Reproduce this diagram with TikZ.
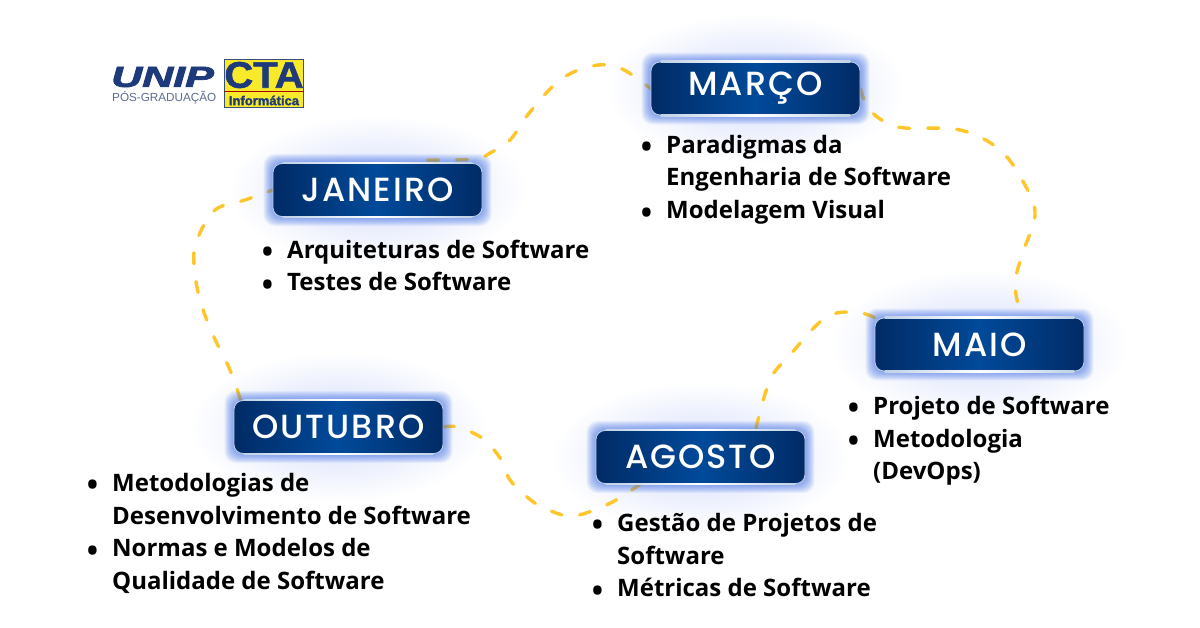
\documentclass[tikz,border=0pt]{standalone}
\usepackage{fontspec}
\setmainfont{Open Sans}
\newfontfamily\titlefont[LetterSpace=6]{Poppins Medium}
\newfontfamily\logofont{Liberation Sans}
\newfontfamily\unipfont[UprightFont=* Bold Italic,FakeBold=2.5]{Liberation Sans}
\newfontfamily\ctafont[UprightFont=* Bold,FakeBold=1.5]{Liberation Sans}
\usetikzlibrary{calc}
\definecolor{boxdark}{HTML}{012B66}
\definecolor{boxmid}{HTML}{014A9A}
\definecolor{glowc}{HTML}{3F6FE6}
\definecolor{hazec}{HTML}{D3DCFB}
\definecolor{wirec}{HTML}{FFC62B}
\definecolor{unipblue}{HTML}{1E3A7B}
\definecolor{unipgrey}{HTML}{5C6C90}
\definecolor{ctayellow}{HTML}{F8EA2B}
\pgfdeclarelayer{haze}\pgfdeclarelayer{wire}\pgfdeclarelayer{glow}
\pgfsetlayers{haze,wire,glow,main}
\tikzset{
  monthbox/.style={rounded corners=9pt,draw=white!75!boxmid,line width=.8pt,
    left color=boxdark,right color=boxdark,middle color=boxmid,
    minimum width=209pt,minimum height=53pt,inner sep=0pt,text=white,
    font=\titlefont\fontsize{33.5}{36}\selectfont},
  wireline/.style={draw=wirec,line width=3.4pt,line cap=round,dash pattern=on 11pt off 18pt},
  bodylist/.style={anchor=north west,inner sep=0pt,align=left,text=black,
    font=\fontsize{24}{32.8}\selectfont\bfseries},
  edgeglow/.style={left color=white!75!boxmid,right color=white!75!boxmid,middle color=white},
}
\newcommand\itm{\llap{\raisebox{-4.5pt}{\fontsize{30}{30}\selectfont •}\hspace{14pt}}}
\newcommand\fl{\rule{0pt}{20pt}}
\newcommand\monthnode[4]{%
  \node[monthbox] (#1) at (#2,#3) {#4};
  \begin{pgfonlayer}{haze}
    \shade[inner color=hazec,outer color=white] ($(#1)+(-150,-75)$) rectangle ($(#1)+(150,75)$);
  \end{pgfonlayer}
  \begin{pgfonlayer}{glow}
    \foreach \g in {9,8,7,6,5,4,3,2,1}
      \fill[glowc,opacity=.085,rounded corners=11pt]
        ($(#1.north west)+(-\g,-\g)$) rectangle ($(#1.south east)+(\g,\g)$);
  \end{pgfonlayer}
  \shade[edgeglow] ($(#1.north west)+(10,-.8)$) rectangle ($(#1.north east)+(-10,.8)$);
  \shade[edgeglow] ($(#1.south west)+(10,-.8)$) rectangle ($(#1.south east)+(-10,.8)$);
}
\begin{document}
\begin{tikzpicture}[x=1pt,y=-1pt]
\useasboundingbox (0,0) rectangle (1200,628);
\begin{pgfonlayer}{haze}
  \fill[white] (0,0) rectangle (1200,628);
\end{pgfonlayer}

\monthnode{jan}{377.5}{190}{JANEIRO}
\monthnode{mar}{755.5}{88.5}{MARÇO}
\monthnode{mai}{979.5}{344.5}{MAIO}
\monthnode{out}{338.5}{427}{OUTUBRO}
\monthnode{ago}{700.5}{457}{AGOSTO}
\coordinate (maitop) at ($(mai.north)+(42,0)$);
\coordinate (agotop) at ($(ago.north)+(55,0)$);
\coordinate (agobot) at ($(ago.south)+(-60,0)$);
\coordinate (jantop) at ($(jan.north)+(50,-3)$);
\coordinate (outtop) at ($(out.north)+(-98,0)$);

\begin{pgfonlayer}{wire}
  \draw[wireline] plot[smooth,tension=.6] coordinates
    {(outtop) (230,370) (213,335) (200,300) (194,265) (197,240) (215,210) (245,200) (jan.west)};
  \draw[wireline] plot[smooth,tension=.6] coordinates
    {(jantop) (475,159) (490,153) (510,140) (530,112) (560,80) (592,66) (620,68) (mar.west)};
  \draw[wireline] plot[smooth,tension=.6] coordinates
    {(mar.east) (868,108) (885,122) (905,128) (960,130) (1000,150) (1025,185) (1035,215) (1022,255) (1015,285) (maitop)};
  \draw[wireline] plot[smooth,tension=.6] coordinates
    {(mai.north west) (855,312) (825,318) (790,355) (770,380) (agotop)};
  \draw[wireline] plot[smooth,tension=.6] coordinates
    {(out.east) (457,427) (482,438) (500,458) (510,480) (527,497) (542,507) (568,516) (592,511) (616,500) (agobot)};
\end{pgfonlayer}

\node[bodylist] (tjan) at (287,238) {\fl\itm Arquiteturas de Software\\\itm Testes de Software};
\node[bodylist] (tmar) at (666,133) {\fl\itm Paradigmas da\\Engenharia de Software\\\itm Modelagem Visual};
\node[bodylist] (tmai) at (873,394) {\fl\itm Projeto de Software\\\itm Metodologia\\(DevOps)};
\node[bodylist] (tout) at (112,471) {\fl\itm Metodologias de\\Desenvolvimento de Software\\\itm Normas e Modelos de\\Qualidade de Software};
\node[bodylist] (tago) at (617,511) {\fl\itm Gestão de Projetos de\\Software\\\itm Métricas de Software};

% logos
\node[anchor=west,inner sep=0pt,text=unipblue,xscale=1.48,
  font=\unipfont\fontsize{29}{30}\selectfont] (unip) at (111,77) {UNIP};
\node[anchor=west,inner sep=0pt,text=unipgrey,
  font=\logofont\fontsize{11.7}{13}\selectfont] (pos) at (112,98) {PÓS-GRADUAÇÃO};
\node[rectangle,draw=unipblue!70!gray,line width=1.4pt,fill=ctayellow,
  minimum width=79pt,minimum height=48pt,inner sep=0pt] (cta) at (264,83.5) {};
\node[inner sep=0pt,text=unipblue,font=\ctafont\fontsize{37}{37}\selectfont,xscale=1.08] (ctat) at (264,75) {CTA};
\draw[red!65!black,line width=.8pt] (cta.west |- 0,91) -- (cta.east |- 0,91);
\node[inner sep=0pt,text=unipblue,font=\ctafont\fontsize{13}{14}\selectfont] (inf) at (264,100.5) {Informática};
\end{tikzpicture}
\end{document}
